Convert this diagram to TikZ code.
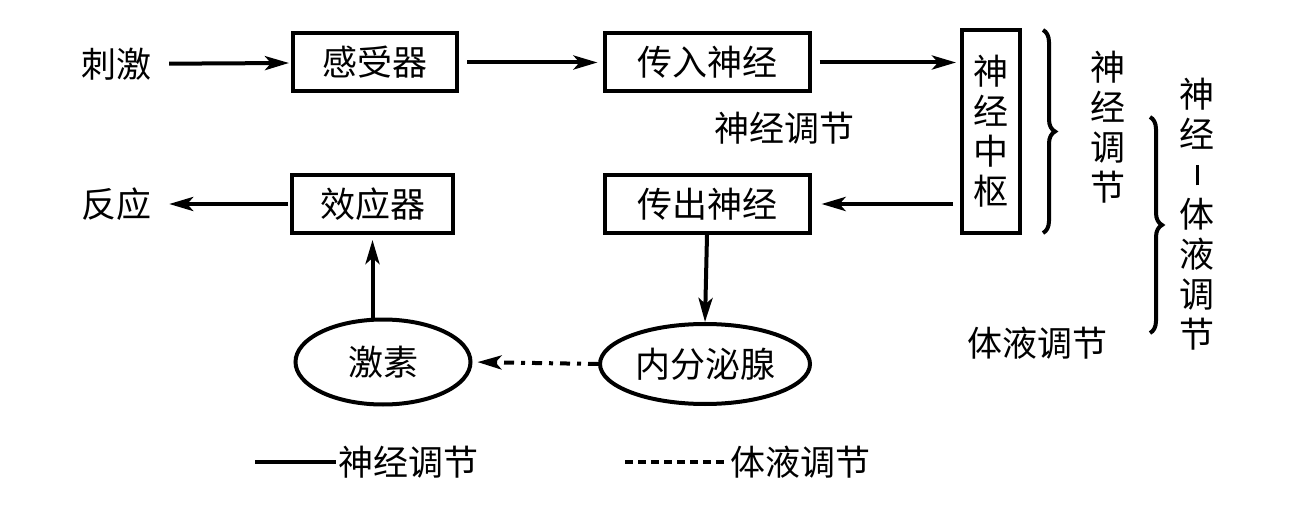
\documentclass[tikz,border=0pt]{standalone}
\usepackage{fontspec}
\newfontfamily\cjk{Noto Sans CJK SC}
\usetikzlibrary{arrows.meta,shapes.geometric,decorations.pathreplacing}
\begin{document}
\begin{tikzpicture}[x=1pt,y=-1pt,
  txt/.style={font=\cjk\fontsize{35}{40}\selectfont,inner sep=0pt},
  boxnode/.style={txt,draw,line width=4pt,minimum height=58pt},
  ovalnode/.style={txt,draw,ellipse,line width=4pt},
  conn/.style={line width=4pt,-{Stealth[length=24pt,width=14pt,inset=6pt]}},
  dashconn/.style={conn,dash pattern=on 10pt off 7pt on 4pt off 7pt},
  bracestyle/.style={line width=4pt,decorate,decoration={brace,amplitude=12pt}}]
\useasboundingbox (0,0) rectangle (1304,505);
% top row
\node[txt] (cj) at (116,64) {刺激};
\node[boxnode,minimum width=164pt] (gs) at (375,62.5) {感受器};
\node[boxnode,minimum width=205pt] (cr) at (707,62.5) {传入神经};
\node[boxnode,minimum width=58pt,minimum height=203pt,align=center] (zs) at (991,131.5) {神\\经\\中\\枢};
% bottom row
\node[txt] (fy) at (116,204) {反应};
\node[boxnode,minimum width=161pt] (xy) at (372.5,204) {效应器};
\node[boxnode,minimum width=205pt] (cc) at (707,204) {传出神经};
\node[ovalnode,minimum width=210pt,minimum height=80pt] (nf) at (705,364) {内分泌腺};
\node[ovalnode,minimum width=175pt,minimum height=85pt] (js) at (383,362) {激素};
% labels
\node[txt] (lab1) at (784,128) {神经调节};
\node[txt] (lab2) at (1037,343) {体液调节};
\node[txt,align=center] (v1) at (1108,127) {神\\经\\调\\节};
\node[txt,align=center] (v2) at (1197,214) {神\\经\\\rule[2pt]{3pt}{20pt}\\体\\液\\调\\节};
% braces
\coordinate (b1t) at (1043,30);
\coordinate (b1b) at (1043,233);
\coordinate (b2t) at (1150,117);
\coordinate (b2b) at (1150,333);
\draw[bracestyle] (b1t) -- (b1b);
\draw[bracestyle] (b2t) -- (b2b);
% connectors
\draw[conn,shorten <=18pt,shorten >=2pt] (cj) -- (gs);
\draw[conn,shorten <=8pt,shorten >=5pt] (gs) -- (cr);
\draw[conn,shorten <=8pt,shorten >=4pt] (cr.east) -- (cr.east -| zs.west);
\draw[conn,shorten <=7pt,shorten >=10pt] (zs.west |- cc.east) -- (cc.east);
\draw[conn,shorten <=2pt,shorten >=18pt] (xy) -- (fy);
\draw[conn] (cc.south) -- (nf.north);
\draw[conn,shorten >=5pt] (xy.south |- js.north) -- (xy.south);
\draw[dashconn,shorten >=5pt] (nf.west) -- (js.east);
% legend
\coordinate (l1a) at (255,462);
\coordinate (l1b) at (336,462);
\node[txt,anchor=west] (l1t) at (338,462) {神经调节};
\coordinate (l2a) at (625,462);
\coordinate (l2b) at (726,462);
\node[txt,anchor=west] (l2t) at (730,462) {体液调节};
\draw[line width=4pt] (l1a) -- (l1b);
\draw[line width=4pt,dash pattern=on 8pt off 5pt] (l2a) -- (l2b);
\end{tikzpicture}
\end{document}
